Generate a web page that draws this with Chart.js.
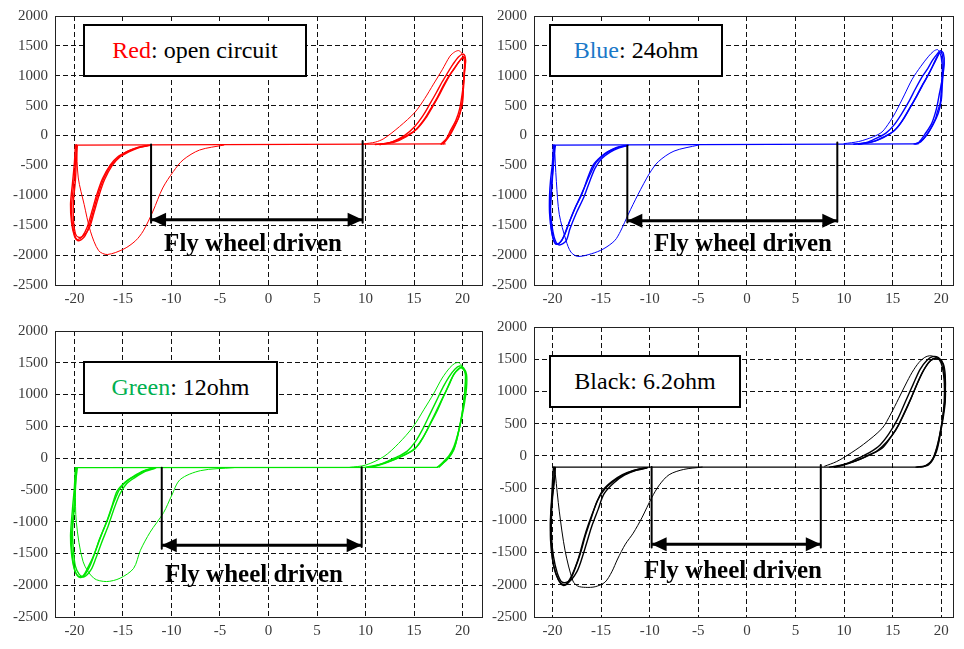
<!DOCTYPE html>
<html>
<head>
<meta charset="utf-8">
<script src="https://cdn.jsdelivr.net/npm/chart.js@4.4.1/dist/chart.umd.min.js"></script>
<style>
  body { margin: 0; background: #fff; width: 964px; height: 649px; position: relative; overflow: hidden; font-family: "Liberation Serif", "Times New Roman", serif; }
  .panel { position: absolute; }
  .panel canvas { display: block; }
  .key { position: absolute; box-sizing: border-box; border: 2px solid #000; background: #fff;
         display: flex; align-items: center; justify-content: center; font-size: 24px; color: #000; white-space: nowrap; }
  .drive { position: absolute; transform: translate(-50%, -50%); font-weight: bold; font-size: 25px; color: #000; white-space: nowrap; }
</style>
</head>
<body>
<div class="panel" id="p1"><canvas id="c1"></canvas></div>
<div class="panel" id="p2"><canvas id="c2"></canvas></div>
<div class="panel" id="p3"><canvas id="c3"></canvas></div>
<div class="panel" id="p4"><canvas id="c4"></canvas></div>

<div class="key" style="left:83px;top:24px;width:224px;height:53px;"><span style="color:#ff0000">Red</span>: open circuit</div>
<div class="key" style="left:549px;top:24px;width:174px;height:53px;"><span style="color:#1a78c8">Blue</span>: 24ohm</div>
<div class="key" style="left:83px;top:361px;width:195px;height:53px;"><span style="color:#00b050">Green</span>: 12ohm</div>
<div class="key" style="left:549px;top:355px;width:192px;height:53px;">Black: 6.2ohm</div>

<div class="drive" style="left:253px;top:243px;">Fly wheel driven</div>
<div class="drive" style="left:743px;top:243px;">Fly wheel driven</div>
<div class="drive" style="left:254px;top:574px;">Fly wheel driven</div>
<div class="drive" style="left:733px;top:570px;">Fly wheel driven</div>

<script>
// Axis ticks shared by all four panels
const xTicks = [-20, -15, -10, -5, 0, 5, 10, 15, 20];
const yTicks = [-2500, -2000, -1500, -1000, -500, 0, 500, 1000, 1500, 2000];

// ---------- Red: open circuit ----------
const redBaseline = [[-19.9, -160], [18.2, -140]];
const redLeft1 = [[-19.9,-160],[-20.0,-450],[-20.2,-800],[-20.4,-1150],[-20.3,-1450],[-20.0,-1680],[-19.7,-1740],[-19.2,-1690],[-18.7,-1540],[-18.2,-1270],[-17.7,-990],[-17.1,-720],[-16.3,-490],[-15.5,-350],[-14.6,-270],[-13.5,-200],[-12.4,-165]];
const redLeft2 = [[-19.8,-165],[-19.9,-480],[-20.1,-850],[-20.3,-1200],[-20.2,-1500],[-19.9,-1700],[-19.6,-1760],[-19.0,-1700],[-18.5,-1520],[-18.0,-1230],[-17.5,-950],[-16.9,-690],[-16.1,-470],[-15.2,-330],[-14.3,-250],[-13.2,-190],[-12.2,-162]];
const redLeft3 = [[-19.7,-170],[-19.8,-420],[-19.9,-760],[-20.1,-1100],[-20.1,-1420],[-19.9,-1640],[-19.6,-1700],[-19.1,-1680],[-18.5,-1560],[-18.0,-1300],[-17.5,-1020],[-16.9,-740],[-16.1,-500],[-15.3,-360],[-14.4,-275],[-13.4,-205],[-12.4,-168]];
const redLeftFirst = [[-4.6,-160],[-7.1,-242],[-8.8,-407],[-9.8,-600],[-10.9,-877],[-11.9,-1263],[-12.9,-1594],[-13.7,-1760],[-14.9,-1897],[-16.6,-1990],[-17.5,-1925],[-18.35,-1600],[-19.0,-1150],[-19.6,-710],[-19.8,-150]];
const redRight1 = [[11.0,-150],[12.5,-120],[13.8,-40],[15.1,88],[16.0,260],[16.7,446],[17.4,640],[18.0,832],[18.6,1000],[19.1,1107],[19.6,1230],[20.0,1300],[20.2,1250],[20.2,1163],[20.1,900],[20.0,557],[19.7,360],[19.4,226],[18.7,6],[18.0,-140]];
const redRight2 = [[11.5,-150],[13.0,-110],[14.2,-20],[15.3,110],[16.2,290],[16.9,480],[17.6,680],[18.2,870],[18.8,1040],[19.3,1160],[19.8,1270],[20.1,1320],[20.3,1260],[20.2,1100],[20.1,820],[19.9,500],[19.6,300],[19.1,150],[18.5,-30],[17.8,-140]];
const redRight3 = [[11.5,-150],[12.8,-100],[14.0,0],[15.0,140],[15.9,330],[16.6,520],[17.3,720],[17.9,900],[18.5,1060],[19.0,1190],[19.6,1320],[20.1,1360],[20.3,1270],[20.2,1050],[20.0,750],[19.7,450],[19.3,250],[18.8,100],[18.3,-60],[17.8,-140]];
const redRightFirst = [[9.8,-140],[11.0,-110],[11.9,-50],[13.5,150],[15.1,391],[16.1,620],[17.0,860],[17.9,1100],[18.7,1328],[19.2,1400],[19.6,1421],[19.9,1380],[20.1,1300]];
const redMarkLeft = [[-12.1, -150], [-12.1, -1460]];
const redMarkRight = [[9.7, -90], [9.7, -1460]];
const redArrow = [[-12.1, -1410], [9.7, -1410]];

// ---------- Blue: 24 ohm ----------
const blueBaseline = [[-20.0, -160], [17.6, -140]];
const blueLeft1 = [[-19.9,-160],[-20.0,-450],[-20.2,-750],[-20.3,-1000],[-20.3,-1300],[-20.1,-1600],[-19.8,-1780],[-19.5,-1820],[-19.0,-1740],[-18.4,-1500],[-17.7,-1220],[-17.0,-990],[-16.4,-720],[-15.8,-490],[-15.0,-350],[-14.3,-270],[-13.4,-200],[-12.4,-165]];
const blueLeft2 = [[-19.8,-165],[-19.9,-500],[-20.1,-820],[-20.2,-1100],[-20.2,-1400],[-20.0,-1680],[-19.7,-1810],[-19.3,-1800],[-18.8,-1680],[-18.2,-1420],[-17.5,-1150],[-16.8,-900],[-16.1,-640],[-15.5,-450],[-14.7,-320],[-14.0,-250],[-13.1,-190],[-12.2,-162]];
const blueLeft3 = [[-19.7,-170],[-19.9,-420],[-20.0,-700],[-20.1,-950],[-20.2,-1250],[-20.0,-1560],[-19.7,-1760],[-19.3,-1830],[-18.6,-1760],[-18.2,-1560],[-17.5,-1280],[-16.8,-1040],[-16.2,-780],[-15.6,-540],[-14.9,-380],[-14.1,-280],[-13.2,-210],[-12.3,-170]];
const blueLeftFirst = [[-5.0,-160],[-7.5,-260],[-9.1,-435],[-10.0,-628],[-11.2,-986],[-12.2,-1317],[-13.0,-1600],[-13.6,-1758],[-14.8,-1900],[-16.0,-1978],[-17.4,-2022],[-18.1,-1950],[-18.6,-1758],[-19.3,-1317],[-19.6,-766],[-19.8,-160]];
const blueRight1 = [[11.0,-145],[12.4,-120],[13.2,-90],[14.1,-20],[15.0,60],[15.9,230],[16.7,446],[17.4,640],[18.0,832],[18.6,1000],[19.1,1163],[19.5,1300],[19.8,1383],[20.0,1300],[20.1,1107],[20.0,820],[19.9,557],[19.6,400],[19.4,281],[18.7,60],[17.9,-105],[17.4,-140]];
const blueRight2 = [[11.5,-145],[12.8,-110],[13.7,-60],[14.6,20],[15.4,120],[16.2,300],[16.9,500],[17.6,700],[18.2,880],[18.8,1060],[19.3,1220],[19.7,1350],[19.9,1400],[20.1,1350],[20.2,1150],[20.1,850],[20.0,600],[19.7,380],[19.2,200],[18.5,10],[17.7,-120],[17.2,-140]];
const blueRight3 = [[11.5,-145],[12.5,-105],[13.4,-40],[14.3,40],[15.1,170],[15.9,360],[16.7,580],[17.3,770],[17.9,950],[18.6,1120],[19.1,1260],[19.6,1370],[19.9,1420],[20.2,1380],[20.3,1200],[20.1,950],[19.8,700],[19.5,450],[19.0,200],[18.3,20],[17.7,-110],[17.3,-140]];
const blueRightFirst = [[10.0,-135],[11.5,-100],[13.0,-20],[13.9,60],[14.7,230],[15.3,391],[16.2,680],[17.0,942],[17.9,1160],[18.7,1328],[19.2,1410],[19.6,1438],[19.8,1400]];
const blueMarkLeft = [[-12.3, -170], [-12.3, -1455]];
const blueMarkRight = [[9.3, -116], [9.3, -1440]];
const blueArrow = [[-12.3, -1427], [9.3, -1427]];

// ---------- Green: 12 ohm ----------
const greenBaseline = [[-19.9, -150], [17.4, -145]];
const greenLeft1 = [[-19.9,-150],[-20.0,-450],[-20.2,-800],[-20.4,-1217],[-20.3,-1500],[-20.0,-1750],[-19.6,-1860],[-19.1,-1850],[-18.6,-1720],[-18.0,-1528],[-17.4,-1270],[-16.7,-1010],[-16.1,-740],[-15.6,-520],[-14.8,-380],[-13.9,-285],[-12.9,-200],[-11.8,-155]];
const greenLeft2 = [[-19.8,-155],[-19.9,-500],[-20.1,-870],[-20.3,-1250],[-20.2,-1550],[-19.9,-1790],[-19.4,-1880],[-18.9,-1830],[-18.3,-1660],[-17.8,-1450],[-17.2,-1200],[-16.5,-940],[-15.9,-680],[-15.3,-480],[-14.5,-350],[-13.6,-270],[-12.6,-190],[-11.6,-152]];
const greenLeft3 = [[-19.7,-160],[-19.9,-420],[-20.0,-760],[-20.2,-1150],[-20.1,-1450],[-19.9,-1700],[-19.5,-1830],[-19.0,-1870],[-18.3,-1760],[-17.8,-1580],[-17.2,-1330],[-16.5,-1060],[-15.9,-790],[-15.3,-560],[-14.6,-400],[-13.7,-300],[-12.7,-210],[-11.7,-160]];
const greenLeftFirst = [[-3.6,-150],[-7.0,-197],[-9.1,-337],[-10.0,-596],[-10.8,-855],[-12.2,-1166],[-13.2,-1450],[-13.9,-1735],[-15.3,-1890],[-16.7,-1942],[-18.0,-1890],[-19.1,-1632],[-19.8,-1010],[-19.9,-500],[-19.9,-150]];
const greenRight1 = [[10.0,-145],[11.0,-115],[11.9,-78],[13.0,-20],[14.0,50],[15.0,130],[15.9,320],[16.7,544],[17.4,750],[18.0,958],[18.6,1150],[19.1,1321],[19.6,1400],[19.9,1425],[20.2,1380],[20.3,1295],[20.2,1000],[19.9,648],[19.5,360],[19.1,130],[18.6,10],[18.0,-78],[17.4,-145]];
const greenRight2 = [[10.5,-145],[11.5,-105],[12.4,-60],[13.5,10],[14.5,90],[15.4,200],[16.2,400],[16.9,620],[17.6,840],[18.3,1060],[18.8,1230],[19.3,1360],[19.7,1420],[20.0,1410],[20.3,1330],[20.3,1150],[20.1,850],[19.7,500],[19.3,230],[18.8,60],[18.2,-50],[17.6,-140]];
const greenRight3 = [[10.5,-145],[11.5,-100],[12.4,-40],[13.4,30],[14.3,110],[15.1,250],[15.9,460],[16.6,680],[17.3,900],[18.0,1120],[18.6,1280],[19.2,1400],[19.7,1450],[20.1,1420],[20.4,1320],[20.4,1100],[20.1,780],[19.6,430],[19.1,180],[18.6,40],[18.0,-60],[17.4,-145]];
const greenRightFirst = [[8.4,-145],[10.0,-110],[11.9,26],[13.4,230],[14.9,492],[16.0,760],[17.0,1010],[17.9,1260],[18.7,1425],[19.2,1490],[19.6,1502],[19.9,1460],[20.1,1400]];
const greenMarkLeft = [[-11.0, -150], [-11.0, -1425]];
const greenMarkRight = [[9.6, -145], [9.6, -1400]];
const greenArrow = [[-11.0, -1373], [9.6, -1373]];

// ---------- Black: 6.2 ohm ----------
const blackBaseline = [[-19.9, -174], [17.6, -174]];
const blackLeft1 = [[-19.9,-174],[-20.0,-400],[-20.1,-700],[-20.2,-960],[-20.2,-1300],[-20.0,-1600],[-19.6,-1850],[-19.1,-1980],[-18.6,-1990],[-18.0,-1850],[-17.3,-1575],[-16.8,-1300],[-16.3,-1062],[-15.6,-780],[-14.9,-549],[-13.9,-400],[-12.8,-292],[-11.6,-220],[-10.4,-185]];
const blackLeft2 = [[-19.8,-178],[-19.9,-450],[-20.1,-760],[-20.2,-1050],[-20.1,-1400],[-19.9,-1700],[-19.4,-1920],[-18.9,-2010],[-18.3,-1960],[-17.7,-1760],[-17.1,-1500],[-16.6,-1230],[-16.0,-960],[-15.4,-700],[-14.6,-510],[-13.6,-380],[-12.5,-280],[-11.3,-215],[-10.2,-182]];
const blackLeft3 = [[-19.7,-180],[-19.8,-380],[-20.0,-660],[-20.1,-920],[-20.1,-1250],[-19.9,-1560],[-19.5,-1820],[-19.0,-1960],[-18.2,-1940],[-17.5,-1800],[-17.1,-1650],[-16.5,-1360],[-16.0,-1110],[-15.3,-830],[-14.7,-590],[-13.7,-420],[-12.6,-300],[-11.4,-225],[-10.3,-188]];
const blackLeftFirst = [[-4.6,-174],[-6.5,-210],[-8.0,-292],[-9.0,-450],[-9.8,-651],[-10.8,-960],[-11.7,-1200],[-12.5,-1370],[-13.3,-1600],[-13.9,-1800],[-14.6,-1960],[-15.6,-2030],[-16.6,-2040],[-17.4,-2020],[-17.9,-1940],[-18.7,-1472],[-19.3,-857],[-19.7,-292],[-19.8,-174]];
const blackRight1 = [[8.5,-174],[9.5,-150],[10.4,-113],[11.5,-60],[12.7,20],[13.9,118],[14.8,290],[15.6,477],[16.5,760],[17.3,1041],[18.0,1280],[18.7,1452],[19.2,1505],[19.7,1513],[20.0,1470],[20.2,1400],[20.4,1100],[20.4,836],[20.2,600],[20.0,426],[19.5,67],[18.7,-138],[17.6,-174]];
const blackRight2 = [[9.0,-174],[10.0,-140],[11.0,-90],[12.2,-10],[13.4,80],[14.4,220],[15.3,400],[16.1,640],[16.9,900],[17.6,1150],[18.3,1360],[18.9,1480],[19.4,1520],[19.8,1490],[20.1,1380],[20.3,1150],[20.3,850],[20.1,550],[19.8,300],[19.2,-20],[18.4,-150],[17.4,-174]];
const blackRight3 = [[9.0,-174],[10.2,-125],[11.4,-40],[12.6,50],[13.7,170],[14.6,340],[15.5,570],[16.3,840],[17.1,1110],[17.8,1340],[18.5,1480],[19.1,1540],[19.7,1525],[20.2,1430],[20.4,1250],[20.4,950],[20.2,650],[19.9,380],[19.6,150],[19.0,-80],[18.2,-165],[17.8,-174]];
const blackRightFirst = [[8.0,-160],[9.2,-90],[10.4,15],[12.0,180],[13.9,426],[14.8,650],[15.6,887],[16.3,1100],[17.0,1298],[17.7,1450],[18.3,1529],[18.8,1554],[19.3,1540],[19.7,1513]];
const blackMarkLeft = [[-9.8, -174], [-9.8, -1421]];
const blackMarkRight = [[7.6, -140], [7.6, -1421]];
const blackArrow = [[-9.8, -1370], [7.6, -1370]];

// ---------- drawing helpers ----------
const pts = arr => arr.map(([x, y]) => ({ x, y }));

function trace(arr, color, width, tension) {
  return {
    data: pts(arr), borderColor: color, backgroundColor: color, borderWidth: width,
    showLine: true, pointRadius: 0, pointHoverRadius: 0, fill: false,
    tension: tension, borderJoinStyle: 'round', borderCapStyle: 'round'
  };
}

function panelSets(color, s) {
  const out = [];
  // fly-wheel markers on top
  out.push(trace(s.markL, '#000', 2, 0));
  out.push(trace(s.markR, '#000', 2, 0));
  const arrow = trace(s.arrow, '#000', 3, 0);
  arrow.arrowHeads = true;
  arrow.borderCapStyle = 'butt';
  out.push(arrow);
  out.push(trace(s.base, color, 1.3, 0));
  s.loops.forEach(l => out.push(trace(l, color, 1.4, 0.3)));
  s.first.forEach(l => out.push(trace(l, color, 1, 0.3)));
  return out;
}

// filled arrowheads at both ends of flagged datasets, tips on the end points
const arrowPlugin = {
  id: 'arrowHeads',
  afterDatasetsDraw(chart) {
    const ctx = chart.ctx;
    chart.data.datasets.forEach((ds, i) => {
      if (!ds.arrowHeads) return;
      const el = chart.getDatasetMeta(i).data;
      const a = el[0], b = el[el.length - 1];
      const head = (tip, from) => {
        const ang = Math.atan2(tip.y - from.y, tip.x - from.x);
        const len = 15, half = 7;
        ctx.save();
        ctx.translate(tip.x, tip.y);
        ctx.rotate(ang);
        ctx.beginPath();
        ctx.moveTo(0, 0);
        ctx.lineTo(-len, -half);
        ctx.lineTo(-len, half);
        ctx.closePath();
        ctx.fillStyle = '#000';
        ctx.fill();
        ctx.restore();
      };
      head(a, b);
      head(b, a);
    });
  }
};

// solid frame around the plotting area
const framePlugin = {
  id: 'frame',
  afterDraw(chart) {
    const { left, top, right, bottom } = chart.chartArea;
    const ctx = chart.ctx;
    ctx.save();
    ctx.strokeStyle = '#222';
    ctx.lineWidth = 1;
    ctx.strokeRect(Math.round(left) + 0.5, Math.round(top) + 0.5, Math.round(right - left), Math.round(bottom - top));
    ctx.restore();
  }
};

const AXIS_W = 55, PAD_TOP = 13, PAD_RIGHT = 6, AXIS_H = 28;

function makePanel(divId, canvasId, area, xr, datasets) {
  const div = document.getElementById(divId);
  div.style.left = (area.left - AXIS_W) + 'px';
  div.style.top = (area.top - PAD_TOP) + 'px';
  div.style.width = (area.right - area.left + AXIS_W + PAD_RIGHT) + 'px';
  div.style.height = (area.bottom - area.top + PAD_TOP + AXIS_H) + 'px';
  const tickFont = { family: '"Liberation Serif", "Times New Roman", serif', size: 15 };
  new Chart(document.getElementById(canvasId), {
    type: 'scatter',
    data: { datasets },
    options: {
      responsive: true, maintainAspectRatio: false, animation: false,
      events: [],
      layout: { padding: { top: PAD_TOP, right: PAD_RIGHT, left: 0, bottom: 0 } },
      plugins: { legend: { display: false }, tooltip: { enabled: false } },
      scales: {
        x: {
          type: 'linear', min: xr[0], max: xr[1],
          afterBuildTicks: sc => { sc.ticks = xTicks.map(v => ({ value: v })); },
          afterFit: sc => { sc.height = AXIS_H; },
          ticks: { callback: v => String(v), color: '#3a3a3a', font: tickFont, padding: 5, maxRotation: 0, autoSkip: false },
          grid: { color: '#111', lineWidth: 1, borderDash: [5, 3], drawTicks: false },
          border: { display: false, dash: [5, 3] }
        },
        y: {
          type: 'linear', min: -2500, max: 2000,
          afterBuildTicks: sc => { sc.ticks = yTicks.map(v => ({ value: v })); },
          afterFit: sc => { sc.width = AXIS_W; },
          ticks: { callback: v => String(v), color: '#3a3a3a', font: tickFont, padding: 7, autoSkip: false },
          grid: { color: '#111', lineWidth: 1, borderDash: [5, 3], drawTicks: false },
          border: { display: false, dash: [5, 3] }
        }
      }
    },
    plugins: [arrowPlugin, framePlugin]
  });
}

makePanel('p1', 'c1', { left: 55, top: 13, right: 482, bottom: 285 }, [-22, 22], panelSets('#ff0000', {
  markL: redMarkLeft, markR: redMarkRight, arrow: redArrow, base: redBaseline,
  loops: [redLeft1, redLeft2, redLeft3, redRight1, redRight2, redRight3],
  first: [redLeftFirst, redRightFirst]
}));

makePanel('p2', 'c2', { left: 534, top: 13, right: 953, bottom: 285 }, [-21.9, 21.2], panelSets('#0000ff', {
  markL: blueMarkLeft, markR: blueMarkRight, arrow: blueArrow, base: blueBaseline,
  loops: [blueLeft1, blueLeft2, blueLeft3, blueRight1, blueRight2, blueRight3],
  first: [blueLeftFirst, blueRightFirst]
}));

makePanel('p3', 'c3', { left: 55, top: 328, right: 482, bottom: 617 }, [-22, 22], panelSets('#00e600', {
  markL: greenMarkLeft, markR: greenMarkRight, arrow: greenArrow, base: greenBaseline,
  loops: [greenLeft1, greenLeft2, greenLeft3, greenRight1, greenRight2, greenRight3],
  first: [greenLeftFirst, greenRightFirst]
}));

makePanel('p4', 'c4', { left: 534, top: 324, right: 953, bottom: 617 }, [-21.9, 21.2], panelSets('#000000', {
  markL: blackMarkLeft, markR: blackMarkRight, arrow: blackArrow, base: blackBaseline,
  loops: [blackLeft1, blackLeft2, blackLeft3, blackRight1, blackRight2, blackRight3],
  first: [blackLeftFirst, blackRightFirst]
}));
</script>
</body>
</html>
